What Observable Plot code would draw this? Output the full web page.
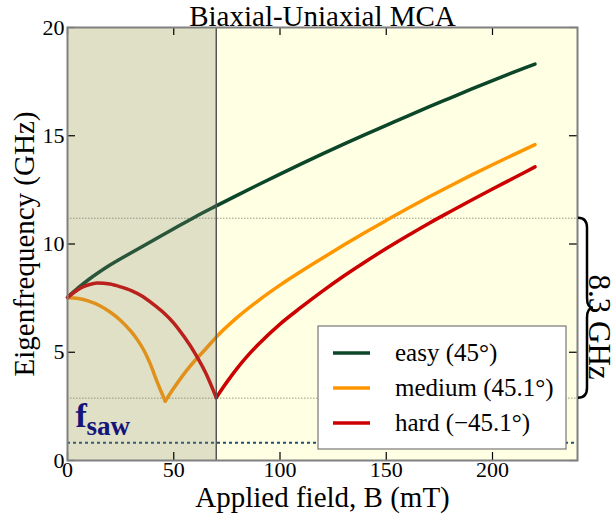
<!DOCTYPE html>
<html><head><meta charset="utf-8">
<script src="https://cdn.jsdelivr.net/npm/d3@7"></script>
<script src="https://cdn.jsdelivr.net/npm/@observablehq/plot@0.6"></script>
<style>body{margin:0;background:#fff;}</style>
</head><body><div id="chart"></div>
<script>
// ---- data ----
const seriesNames = ["easy (45°)", "medium (45.1°)", "hard (−45.1°)"];
const seriesColors = ["#0b4628", "#ff9600", "#cc0000"];

const fieldEasy = [0,5,10,20,30,40,50,60,70,80,90,100,110,120,130,140,150,160,170,180,190,200,210,220];
const freqEasy  = [7.54,7.97,8.36,9.03,9.6,10.15,10.7,11.25,11.76,12.26,12.75,13.23,13.7,14.16,14.61,15.05,15.48,15.91,16.33,16.74,17.15,17.55,17.94,18.31];

const fieldMediumA = [0,5,10,15,20,25,30,33,36,39,42,44,46];
const freqMediumA  = [7.52,7.48,7.36,7.16,6.86,6.47,5.95,5.56,5.08,4.45,3.68,3.2,2.74];
const fieldMediumB = [46,48,52,56,60,65,70,80,90,100,110,120,130,140,150,160,170,180,190,200,210,220];
const freqMediumB  = [2.74,3.05,3.62,4.15,4.62,5.15,5.7,6.62,7.4,8.1,8.74,9.35,9.95,10.53,11.09,11.64,12.17,12.68,13.18,13.66,14.13,14.59];

const fieldHardA = [0,3,6,10,14,20,25,30,35,40,45,50,55,60,65,70];
const freqHardA  = [7.52,7.76,7.96,8.12,8.2,8.15,8.02,7.85,7.6,7.25,6.85,6.35,5.7,4.95,4.05,2.9];
const fieldHardB = [70,72,76,80,84,90,100,110,120,130,140,150,160,170,180,190,200,210,220];
const freqHardB  = [2.9,3.2,3.76,4.28,4.75,5.38,6.3,7.08,7.82,8.52,9.17,9.79,10.38,10.95,11.49,12.02,12.54,13.05,13.56];

const shadeEnd = 70;          // mT, end of shaded region
const gapTop = 11.19;         // GHz, upper dotted level
const gapBottom = 2.88;       // GHz, lower dotted level
const gapLabel = "8.3 GHz";
const fSaw = 0.82;            // GHz
const xTicks = [0,50,100,150,200];
const yTicks = [0,5,10,15,20];
const xDomain = [0,240];
const yDomain = [0,20];

// ---- build table ----
function seg(fields, freqs, series, id){
  return fields.map((b,i)=>({B:b, f:freqs[i], series, seg:id}));
}
const rows = [
  ...seg(fieldEasy, freqEasy, seriesNames[0], "e"),
  ...seg(fieldMediumA, freqMediumA, seriesNames[1], "mA"),
  ...seg(fieldMediumB, freqMediumB, seriesNames[1], "mB"),
  ...seg(fieldHardA, freqHardA, seriesNames[2], "hA"),
  ...seg(fieldHardB, freqHardB, seriesNames[2], "hB")
];

const W=616, H=519, mL=67, mR=39, mT=27, mB=59;
const fW = W-mL-mR, fH = H-mT-mB;
const serif = "'Liberation Serif', 'Times New Roman', serif";

const svg = Plot.plot({
  width: W, height: H,
  marginLeft: mL, marginRight: mR, marginTop: mT, marginBottom: mB,
  x: {domain: xDomain},
  y: {domain: yDomain},
  color: {domain: seriesNames, range: seriesColors},
  style: {fontFamily: serif, fontSize: "22px", background: "white", overflow: "visible", color: "black"},
  marks: [
    Plot.frame({fill: "#ffffe4"}),
    Plot.ruleY([gapTop, gapBottom], {stroke: "#9a9a8a", strokeWidth: 1, strokeDasharray: "1.5,1.5"}),
    Plot.ruleY([fSaw], {stroke: "#1f4e79", strokeWidth: 2, strokeDasharray: "3,3"}),
    Plot.line(rows, {x: "B", y: "f", z: "seg", stroke: "series", strokeWidth: 3.5, curve: "monotone-x"}),
    Plot.rect([shadeEnd], {x1: 0, x2: d => d, y1: yDomain[0], y2: yDomain[1], fill: "#83836f", fillOpacity: 0.25}),
    Plot.ruleX([shadeEnd], {stroke: "#555555", strokeWidth: 1.5}),
    Plot.tickX(xTicks, {x: d => d, insetTop: fH - 8, stroke: "black", strokeWidth: 1.2}),
    Plot.tickX(xTicks, {x: d => d, insetBottom: fH - 8, stroke: "black", strokeWidth: 1.2}),
    Plot.tickY(yTicks, {y: d => d, insetRight: fW - 8, stroke: "black", strokeWidth: 1.2}),
    Plot.tickY(yTicks, {y: d => d, insetLeft: fW - 8, stroke: "black", strokeWidth: 1.2}),
    Plot.axisX({ticks: xTicks, tickSize: 0, tickPadding: 1, label: null, fontSize: 22}),
    Plot.axisY({ticks: yTicks, tickSize: 0, tickPadding: 3, label: null, fontSize: 22}),
    Plot.frame({stroke: "#808080", strokeWidth: 2}),
    Plot.text(["Biaxial-Uniaxial MCA"], {frameAnchor: "top", textAnchor: "middle", lineAnchor: "middle", dy: -11, fontSize: 29}),
    Plot.text(["Applied field, B (mT)"], {frameAnchor: "bottom", textAnchor: "middle", lineAnchor: "middle", dy: 37, fontSize: 29}),
    Plot.text(["Eigenfrequency (GHz)"], {frameAnchor: "left", textAnchor: "middle", lineAnchor: "middle", rotate: -90, dx: -43, fontSize: 29}),
    Plot.text(["f"], {frameAnchor: "bottom-left", textAnchor: "start", lineAnchor: "middle", dx: 8, dy: -44, fontSize: 34, fontWeight: "bold", fill: "#14147a"}),
    Plot.text(["saw"], {frameAnchor: "bottom-left", textAnchor: "start", lineAnchor: "middle", dx: 19, dy: -34, fontSize: 27, fontWeight: "bold", fill: "#14147a"})
  ]
});

// ---- annotations built from the plot's own scales ----
const ys = svg.scale("y"), xs = svg.scale("x");
const sel = d3.select(svg);
const right = xs.apply(xDomain[1]);
const yT = ys.apply(gapTop), yB = ys.apply(gapBottom), yM = (yT + yB) / 2;
const tipX = right + 1, bodyX = right + 10, pointX = right + 16, r = 10;
const bracePath = `M${tipX},${yT} Q${bodyX},${yT} ${bodyX},${yT + r} L${bodyX},${yM - r} Q${bodyX},${yM} ${pointX},${yM} Q${bodyX},${yM} ${bodyX},${yM + r} L${bodyX},${yB - r} Q${bodyX},${yB} ${tipX},${yB}`;
sel.append("path").attr("d", bracePath).attr("fill", "none").attr("stroke", "black").attr("stroke-width", 2.5);
const yLab = ys.apply(6.14);
sel.append("text").attr("transform", `translate(${right + 22},${yLab}) rotate(90)`)
  .attr("text-anchor", "middle").attr("dy", "0.32em").attr("font-size", 31).attr("font-family", serif).text(gapLabel);

// legend
const bottom = ys.apply(yDomain[0]);
const lgW = 248, lgH = 123, lgX = right - 11 - lgW, lgY = bottom - 11 - lgH;
const lg = sel.append("g");
lg.append("rect").attr("x", lgX).attr("y", lgY).attr("width", lgW).attr("height", lgH)
  .attr("fill", "white").attr("stroke", "#777").attr("stroke-width", 1.2);
seriesNames.forEach((name, i) => {
  const yy = lgY + 27 + i * 35;
  lg.append("line").attr("x1", lgX + 15).attr("x2", lgX + 52).attr("y1", yy).attr("y2", yy)
    .attr("stroke", seriesColors[i]).attr("stroke-width", 3.5);
  lg.append("text").attr("x", lgX + 77).attr("y", yy).attr("dy", "0.32em")
    .attr("text-anchor", "start").attr("font-size", 25).attr("font-family", serif).text(name);
});

document.getElementById("chart").appendChild(svg);
</script>
</body></html>
